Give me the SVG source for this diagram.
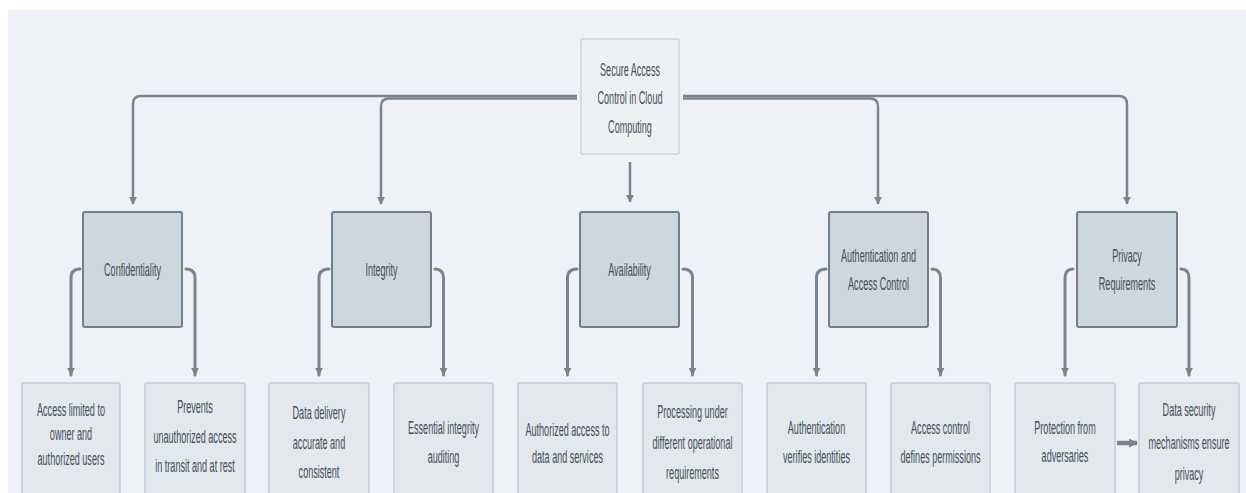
<svg xmlns="http://www.w3.org/2000/svg" width="1246" height="493" viewBox="0 0 1246 493">
<defs>
<marker id="ah" viewBox="0 0 10 10" refX="9" refY="5" markerWidth="8" markerHeight="8" markerUnits="userSpaceOnUse" orient="auto"><path d="M0,0 L10,5 L0,10 z" fill="#7a8491"/></marker>
<marker id="ah2" viewBox="0 0 10 10" refX="9" refY="5" markerWidth="9" markerHeight="11" markerUnits="userSpaceOnUse" orient="auto"><path d="M0,0 L10,5 L0,10 z" fill="#7a8491"/></marker>
</defs>
<style>
.root{fill:#eef1f4;stroke:#cdd3d9;stroke-width:1.5}
.mid{fill:#cdd7e0;stroke:#737e8a;stroke-width:2}
.leaf{fill:#e3e8ed;stroke:#c3cad2;stroke-width:1.5}
text{font-family:"Liberation Sans",Arial,sans-serif;font-size:18.5px;fill:#444d59;text-anchor:middle}
.c1{fill:none;stroke:#7a8491;stroke-width:2.5;marker-end:url(#ah)}
.c2{fill:none;stroke:#7a8491;stroke-width:3;stroke-linecap:round;marker-end:url(#ah)}
</style>
<rect x="8" y="10" width="1238" height="483" fill="#eef2f6"/>
<g id="connectors">
<path class="c1" d="M577,96 H141 Q133,96 133,104 V204"/>
<path class="c1" d="M577,98.5 H389 Q381,98.5 381,106.5 V204"/>
<path class="c1" d="M630,162 V202"/>
<path class="c1" d="M683,98.5 H870 Q878,98.5 878,106.5 V204"/>
<path class="c1" d="M683,96 H1119 Q1127,96 1127,104 V204"/>
<path class="c2" d="M80,269 Q71,269 71,278 V375"/>
<path class="c2" d="M186,269 Q195,269 195,278 V375"/>
<path class="c2" d="M329,269 Q319,269 319,278 V375"/>
<path class="c2" d="M435,269 Q443.5,269 443.5,278 V375"/>
<path class="c2" d="M577,269 Q567.5,269 567.5,278 V375"/>
<path class="c2" d="M683,269 Q692.5,269 692.5,278 V375"/>
<path class="c2" d="M826,269 Q816.5,269 816.5,278 V375"/>
<path class="c2" d="M932,269 Q940.5,269 940.5,278 V375"/>
<path class="c2" d="M1073,269 Q1065,269 1065,278 V375"/>
<path class="c2" d="M1181,269 Q1189,269 1189,278 V375"/>
<path d="M1117,443 H1137" fill="none" stroke="#7a8491" stroke-width="4.5" marker-end="url(#ah2)"/>
</g>
<g id="root"><rect class="root" x="581" y="39" width="98" height="115" rx="1.5"/>
<text transform="translate(630 0) scale(.49 1)"><tspan x="0" y="76">Secure Access</tspan><tspan x="0" y="104.5">Control in Cloud</tspan><tspan x="0" y="133">Computing</tspan></text></g>
<g id="confidentiality"><rect class="mid" x="83" y="212" width="99" height="115" rx="2"/>
<text transform="translate(132.5 0) scale(.49 1)"><tspan x="0" y="276">Confidentiality</tspan></text></g>
<g id="integrity"><rect class="mid" x="332" y="212" width="99" height="115" rx="2"/>
<text transform="translate(381.5 0) scale(.49 1)"><tspan x="0" y="276">Integrity</tspan></text></g>
<g id="availability"><rect class="mid" x="580" y="212" width="99" height="115" rx="2"/>
<text transform="translate(629.5 0) scale(.49 1)"><tspan x="0" y="276">Availability</tspan></text></g>
<g id="authentication"><rect class="mid" x="829" y="212" width="99" height="115" rx="2"/>
<text transform="translate(878.5 0) scale(.49 1)"><tspan x="0" y="262.5">Authentication and</tspan><tspan x="0" y="290.5">Access Control</tspan></text></g>
<g id="privacy"><rect class="mid" x="1077" y="212" width="100" height="115" rx="2"/>
<text transform="translate(1127 0) scale(.49 1)"><tspan x="0" y="262.5">Privacy</tspan><tspan x="0" y="290.5">Requirements</tspan></text></g>
<g id="leaf-conf-1"><rect class="leaf" x="22" y="383" width="98" height="120" rx="2"/>
<text transform="translate(71 0) scale(.49 1)"><tspan x="0" y="416.5">Access limited to</tspan><tspan x="0" y="440.5">owner and</tspan><tspan x="0" y="465.5">authorized users</tspan></text></g>
<g id="leaf-conf-2"><rect class="leaf" x="145" y="383" width="100" height="120" rx="2"/>
<text transform="translate(195 0) scale(.49 1)"><tspan x="0" y="413.5">Prevents</tspan><tspan x="0" y="443.5">unauthorized access</tspan><tspan x="0" y="472.5">in transit and at rest</tspan></text></g>
<g id="leaf-int-1"><rect class="leaf" x="269" y="383" width="100" height="120" rx="2"/>
<text transform="translate(319 0) scale(.49 1)"><tspan x="0" y="419.5">Data delivery</tspan><tspan x="0" y="449.5">accurate and</tspan><tspan x="0" y="478.5">consistent</tspan></text></g>
<g id="leaf-int-2"><rect class="leaf" x="394" y="383" width="99" height="120" rx="2"/>
<text transform="translate(443.5 0) scale(.49 1)"><tspan x="0" y="434.5">Essential integrity</tspan><tspan x="0" y="463.5">auditing</tspan></text></g>
<g id="leaf-av-1"><rect class="leaf" x="518" y="383" width="99" height="120" rx="2"/>
<text transform="translate(567.5 0) scale(.49 1)"><tspan x="0" y="436.5">Authorized access to</tspan><tspan x="0" y="463.5">data and services</tspan></text></g>
<g id="leaf-av-2"><rect class="leaf" x="643" y="383" width="99" height="120" rx="2"/>
<text transform="translate(692.5 0) scale(.49 1)"><tspan x="0" y="418.5">Processing under</tspan><tspan x="0" y="449.5">different operational</tspan><tspan x="0" y="479.5">requirements</tspan></text></g>
<g id="leaf-auth-1"><rect class="leaf" x="767" y="383" width="99" height="120" rx="2"/>
<text transform="translate(816.5 0) scale(.49 1)"><tspan x="0" y="434.5">Authentication</tspan><tspan x="0" y="463.5">verifies identities</tspan></text></g>
<g id="leaf-auth-2"><rect class="leaf" x="891" y="383" width="99" height="120" rx="2"/>
<text transform="translate(940.5 0) scale(.49 1)"><tspan x="0" y="434.5">Access control</tspan><tspan x="0" y="463.5">defines permissions</tspan></text></g>
<g id="leaf-priv-1"><rect class="leaf" x="1015" y="383" width="100" height="120" rx="2"/>
<text transform="translate(1065 0) scale(.49 1)"><tspan x="0" y="434.5">Protection from</tspan><tspan x="0" y="462.5">adversaries</tspan></text></g>
<g id="leaf-priv-2"><rect class="leaf" x="1139" y="383" width="100" height="120" rx="2"/>
<text transform="translate(1189 0) scale(.49 1)"><tspan x="0" y="416.5">Data security</tspan><tspan x="0" y="449.5">mechanisms ensure</tspan><tspan x="0" y="480.5">privacy</tspan></text></g>
</svg>
